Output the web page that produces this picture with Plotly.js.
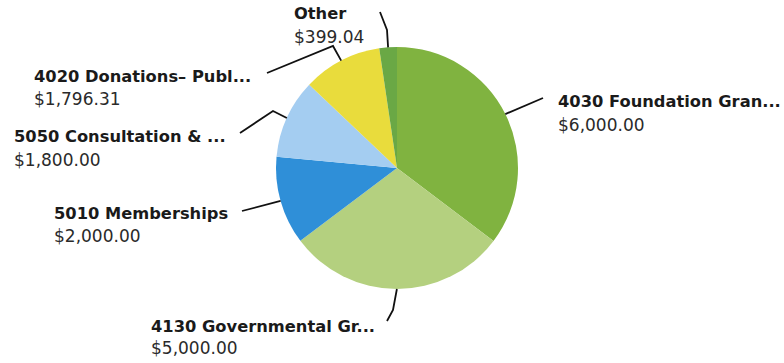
<!DOCTYPE html>
<html>
<head>
<meta charset="utf-8">
<script src="https://cdn.plot.ly/plotly-3.0.1.min.js"></script>
<style>html,body{margin:0;padding:0;background:#fff;}#chart{width:784px;height:363px;}</style>
</head>
<body>
<div id="chart"></div>
<script>
var categories = ["4030 Foundation Gran...", "4130 Governmental Gr...", "5010 Memberships", "5050 Consultation & ...", "4020 Donations– Publ...", "Other"];
var values = [6000.00, 5000.00, 2000.00, 1800.00, 1796.31, 399.04];
var valueLabels = ["$6,000.00", "$5,000.00", "$2,000.00", "$1,800.00", "$1,796.31", "$399.04"];
var colors = ["#80b340", "#b4d07f", "#2f8fd8", "#a4cdf1", "#e9dc3c", "#6aa845"];

var W = 784, H = 363;
var cx = 397, cy = 168, R = 121;
// label layout (pixel): text left x, name y, value y, elbow and end point of leader
var labelPos = [
  {x: 557, y1: 102, y2: 125, pts: [[543, 98]]},
  {x: 150, y1: 326, y2: 348, pts: [[393, 310], [387, 321]]},
  {x: 53,  y1: 213, y2: 236, pts: [[242, 211]]},
  {x: 13,  y1: 137, y2: 160, pts: [[273, 111], [240, 133]]},
  {x: 33,  y1: 76,  y2: 99,  pts: [[333, 46], [267, 73]]},
  {x: 293, y1: 14,  y2: 37,  pts: [[387, 30], [380, 12]]}
];
function px(x){return x / W;}
function py(y){return 1 - y / H;}

var total = values.reduce(function(a,b){return a+b;}, 0);
var annotations = [], shapes = [];
var cum = 0;
for (var i = 0; i < values.length; i++) {
  var mid = (cum + values[i] / 2) / total * 2 * Math.PI;
  cum += values[i];
  var ex = cx + R * Math.sin(mid), ey = cy - R * Math.cos(mid);
  var L = labelPos[i];
  var path = "M " + px(ex) + " " + py(ey);
  L.pts.forEach(function(p){ path += " L " + px(p[0]) + " " + py(p[1]); });
  shapes.push({type: "path", xref: "paper", yref: "paper", path: path,
    line: {color: "#111", width: 1.8}});
  annotations.push({xref: "paper", yref: "paper", x: px(L.x - 1), y: py(L.y1), xanchor: "left", yanchor: "middle",
    text: "<b>" + categories[i] + "</b>", showarrow: false,
    font: {family: "DejaVu Sans", size: 16.3, color: "#1a1a1a"}});
  annotations.push({xref: "paper", yref: "paper", x: px(L.x - 1), y: py(L.y2), xanchor: "left", yanchor: "middle",
    text: valueLabels[i], showarrow: false,
    font: {family: "DejaVu Sans", size: 17, color: "#2a2a2a"}});
}

var trace = {
  type: "pie",
  labels: categories,
  values: values,
  sort: false,
  direction: "clockwise",
  rotation: 0,
  textinfo: "none",
  hoverinfo: "label+value",
  marker: {colors: colors, line: {width: 0}},
  domain: {x: [(cx - R) / W, (cx + R) / W], y: [1 - (cy + R) / H, 1 - (cy - R) / H]}
};

var layout = {
  width: W, height: H,
  margin: {l: 0, r: 0, t: 0, b: 0},
  showlegend: false,
  paper_bgcolor: "#fff",
  annotations: annotations,
  shapes: shapes
};
Plotly.newPlot("chart", [trace], layout, {displayModeBar: false, staticPlot: true});
</script>
</body>
</html>
